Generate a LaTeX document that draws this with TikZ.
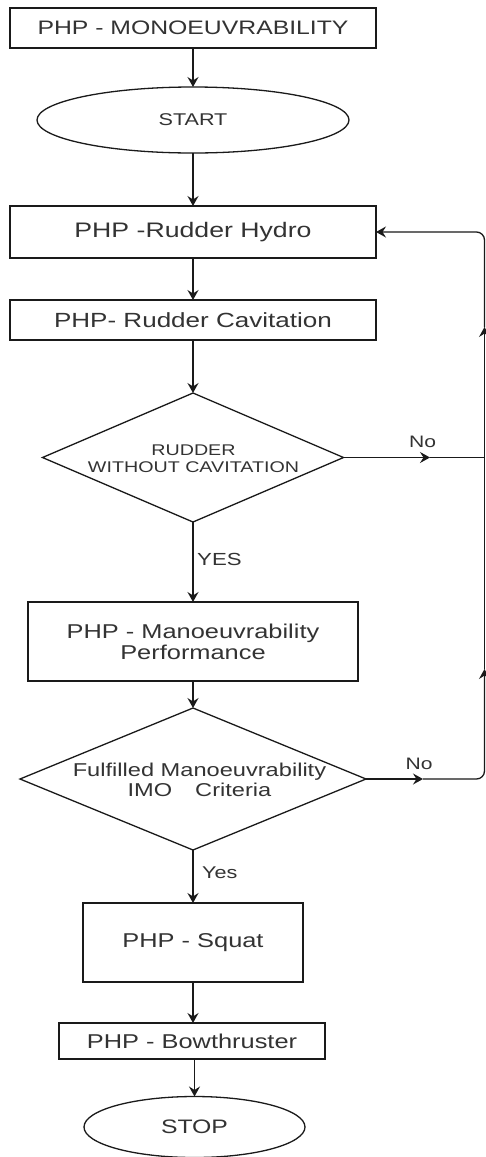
\documentclass[tikz,border=0pt]{standalone}
\usepackage{fontspec}
\newfontfamily\dfont[FakeStretch=1.27]{Liberation Sans}
\usetikzlibrary{arrows.meta,shapes.geometric}
\definecolor{ln}{HTML}{1A1A1A}
\definecolor{tx}{HTML}{333333}
\begin{document}
\begin{tikzpicture}[x=1pt,y=-1pt,
 base/.style={draw=ln, line width=1.3pt, outer sep=0pt, inner sep=0pt, text=tx, align=center},
 rbox/.style={base, rectangle},
 oval/.style={base, ellipse},
 dia/.style={base, diamond},
 dtext/.style={text=tx, inner sep=0pt, align=center},
 lbl/.style={text=tx, inner sep=0pt},
 arr/.style={draw=ln, line width=1.3pt, -{Stealth[length=10pt,width=11pt,inset=3.5pt]}},
 con/.style={draw=ln, line width=1.3pt}]
\useasboundingbox (0,0) rectangle (486,1157);
\fill[white] (0,0) rectangle (486,1157);

\node[rbox, minimum width=366pt, minimum height=40pt, font=\dfont\fontsize{19.5}{21}\selectfont] (b0) at (193,28) {PHP - MONOEUVRABILITY};
\node[oval, minimum width=312pt, minimum height=66pt, font=\dfont\fontsize{17}{18}\selectfont] (start) at (193,120) {START};
\node[rbox, minimum width=366pt, minimum height=52pt, font=\dfont\fontsize{21}{22}\selectfont] (hydro) at (193,232) {PHP -Rudder Hydro};
\node[rbox, minimum width=366pt, minimum height=40pt, font=\dfont\fontsize{20.5}{22}\selectfont] (cav) at (193,320) {PHP- Rudder Cavitation};
\node[dia, minimum width=301pt, minimum height=129pt] (d1) at (193,457.5) {};
\node[dtext, font=\dfont\fontsize{15.5}{17}\selectfont] (d1t) at (193.5,459) {RUDDER\\WITHOUT CAVITATION};
\node[rbox, minimum width=330pt, minimum height=79pt, font=\dfont\fontsize{20}{21}\selectfont] (perf) at (193,641.5) {PHP - Manoeuvrability\\Performance};
\node[dia, minimum width=346pt, minimum height=142pt] (d2) at (193,779) {};
\node[dtext, font=\dfont\fontsize{18.6}{20}\selectfont] (d2t) at (199.5,780) {Fulfilled Manoeuvrability\\IMO\hspace{23pt}Criteria};
\node[rbox, minimum width=220pt, minimum height=79pt, font=\dfont\fontsize{20}{21}\selectfont] (squat) at (193,942.5) {PHP - Squat};
\node[rbox, minimum width=266pt, minimum height=36pt, font=\dfont\fontsize{20}{21}\selectfont] (bow) at (192,1041) {PHP - Bowthruster};
\node[oval, minimum width=221pt, minimum height=61pt, font=\dfont\fontsize{19.5}{21}\selectfont] (stop) at (194.5,1127) {STOP};

\node[lbl, anchor=west, font=\dfont\fontsize{17.5}{18}\selectfont] (yes1) at (197,559) {YES};
\node[lbl, anchor=west, font=\dfont\fontsize{17}{18}\selectfont] (yes2) at (202,872.5) {Yes};
\node[lbl, font=\dfont\fontsize{16.6}{18}\selectfont] (no1) at (422.5,442) {No};
\node[lbl, font=\dfont\fontsize{16.6}{18}\selectfont] (no2) at (419,764) {No};

\draw[arr] (b0) -- (start);
\draw[arr] (start) -- (hydro);
\draw[arr] (hydro) -- (cav);
\draw[arr] (cav) -- (d1);
\draw[arr] (d1) -- (perf);
\draw[arr] (perf) -- (d2);
\draw[arr] (d2) -- (squat);
\draw[arr] (squat.south) -- (squat.south |- bow.north);
\draw[arr] (stop.north |- bow.south) -- (stop.north);

\coordinate (a1) at (430,457.5);
\coordinate (j1) at (484.5,457.5);
\coordinate (a2) at (423,779);
\coordinate (c2) at (484.5,779);
\coordinate (u2) at (484.5,669);
\coordinate (u1) at (484.5,327);
\coordinate (c1) at (484.5,232);
\draw[arr] (d1.east) -- (a1);
\draw[con] (a1) -- (j1);
\draw[arr] (d2.east) -- (a2);
\draw[arr, rounded corners=8pt] (a2) -- (c2) -- (u2);
\draw[arr] (u2) -- (u1);
\draw[arr, rounded corners=8pt] (u1) -- (c1) -- (hydro.east);
\end{tikzpicture}
\end{document}
